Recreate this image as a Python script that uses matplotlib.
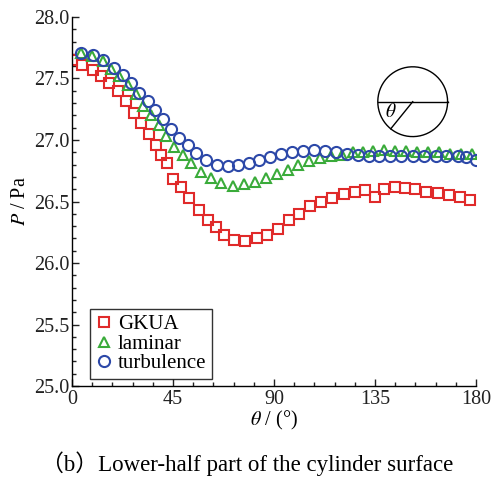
import numpy as np
import matplotlib
matplotlib.use("Agg")
import matplotlib.pyplot as plt
from matplotlib.ticker import MultipleLocator, FormatStrFormatter

plt.rcParams['font.family'] = ['Liberation Serif', 'Noto Sans CJK SC']
plt.rcParams['mathtext.fontset'] = 'stix'

# GKUA (squares)
th_gkua = [0, 4.5, 9.2, 12.9, 16.6, 20.4, 24.1, 27.8, 30.8, 34.5, 37.4, 39.7, 42.3,
           44.9, 48.6, 52.3, 56.5, 60.5, 64.2, 67.9, 72.4, 77.3, 82.3, 86.9, 91.7,
           96.6, 101.3, 106.2, 111.0, 115.9, 121.0, 125.9, 130.6, 135.2, 139.2,
           143.7, 148.4, 153.0, 157.8, 163.0, 167.9, 172.7, 177.4]
p_gkua = [27.65, 27.61, 27.57, 27.52, 27.465, 27.40, 27.32, 27.22, 27.14, 27.05,
          26.96, 26.88, 26.81, 26.68, 26.62, 26.53, 26.43, 26.35, 26.29, 26.23,
          26.19, 26.18, 26.20, 26.23, 26.28, 26.35, 26.40, 26.46, 26.50, 26.53,
          26.56, 26.58, 26.59, 26.54, 26.60, 26.62, 26.61, 26.60, 26.58, 26.57,
          26.55, 26.54, 26.51]

# laminar (triangles)
th_lam = [4.0, 8.9, 13.7, 17.4, 21.1, 24.8, 28.5, 31.8, 35.2, 38.6, 41.9, 45.6,
          49.3, 53.0, 57.5, 62.0, 66.4, 71.6, 76.8, 81.7, 86.5, 91.2, 96.1, 100.9,
          105.8, 110.3, 115.5, 120.4, 125.1, 129.6, 134.3, 139.2, 144.1, 148.9,
          153.6, 158.5, 163.7, 168.2, 173.4, 178.3]
p_lam = [27.71, 27.68, 27.64, 27.58, 27.52, 27.45, 27.37, 27.28, 27.20, 27.12,
         27.03, 26.94, 26.88, 26.81, 26.74, 26.69, 26.65, 26.63, 26.64, 26.66,
         26.69, 26.72, 26.76, 26.80, 26.83, 26.855, 26.87, 26.88, 26.90, 26.90,
         26.91, 26.92, 26.91, 26.91, 26.90, 26.90, 26.90, 26.89, 26.89, 26.89]

# turbulence (circles)
th_turb = [4.0, 9.2, 14.0, 18.9, 22.6, 26.3, 30.0, 33.7, 37.1, 40.4, 44.1, 47.8,
           51.6, 55.3, 59.7, 64.5, 69.4, 74.1, 79.0, 83.5, 88.3, 93.2, 98.1, 103.1,
           108.0, 112.9, 117.7, 122.4, 127.3, 132.2, 137.0, 141.8, 146.7, 151.9,
           157.0, 162.0, 166.7, 171.9, 175.6, 179.8]
p_turb = [27.71, 27.69, 27.65, 27.585, 27.53, 27.465, 27.385, 27.32, 27.245, 27.17,
          27.09, 27.02, 26.96, 26.895, 26.84, 26.80, 26.79, 26.795, 26.81, 26.836,
          26.86, 26.89, 26.90, 26.91, 26.92, 26.91, 26.90, 26.89, 26.88, 26.87,
          26.87, 26.87, 26.87, 26.87, 26.87, 26.87, 26.87, 26.87, 26.86, 26.84]

fig = plt.figure(figsize=(4.94, 4.8), dpi=100)
ax = fig.add_axes([0.1457, 0.1958, 0.8179, 0.7688])

ax.plot(th_gkua, p_gkua, 's', ms=7, mfc='none', mec='#e02a2a', mew=1.5, label='GKUA')
ax.plot(th_lam, p_lam, '^', ms=7.5, mfc='none', mec='#3aab3a', mew=1.5, label='laminar')
ax.plot(th_turb, p_turb, 'o', ms=8, mfc='none', mec='#2c48a8', mew=1.5, label='turbulence')

ax.set_xlim(0, 180)
ax.set_ylim(25.0, 28.0)
ax.xaxis.set_major_locator(MultipleLocator(45))
ax.xaxis.set_minor_locator(MultipleLocator(9))
ax.yaxis.set_major_locator(MultipleLocator(0.5))
ax.yaxis.set_minor_locator(MultipleLocator(0.1))
ax.yaxis.set_major_formatter(FormatStrFormatter('%.1f'))
ax.tick_params(which='both', direction='in', labelsize=14.5, colors='#222222')
ax.tick_params(which='major', length=5, width=1)
ax.tick_params(which='minor', length=3, width=1)
ax.tick_params(axis='y', pad=2)
ax.tick_params(axis='x', pad=3)
for s in ['top', 'right']:
    ax.spines[s].set_visible(False)
for s in ['left', 'bottom']:
    ax.spines[s].set_linewidth(1.0)

ax.set_xlabel(r'$\theta$ / (°)', fontsize=14.5, labelpad=0)
ax.set_ylabel(r'$P$ / Pa', fontsize=14.5, labelpad=3)

leg = ax.legend(loc='lower left', bbox_to_anchor=(0.044, 0.02), borderaxespad=0,
                fontsize=15, frameon=True, fancybox=False, edgecolor='black',
                labelspacing=0.0, borderpad=0.25, handlelength=0.9,
                handletextpad=0.2)
leg.get_frame().set_linewidth(1.0)

# cylinder sketch
ins = fig.add_axes([(412.7 - 37) / 494, 1 - (101.7 + 37) / 480, 74 / 494, 74 / 480])
ins.set_xlim(-1.06, 1.06)
ins.set_ylim(-1.06, 1.06)
ins.set_aspect('equal')
ins.axis('off')
t = np.linspace(0, 2 * np.pi, 200)
ins.plot(np.cos(t), np.sin(t), color='black', lw=1.0)
ins.plot([-1, 1], [0, 0], color='black', lw=1.0)
a = np.deg2rad(231)
ins.plot([0, np.cos(a)], [0, np.sin(a)], color='black', lw=1.0)
ins.text(-0.62, -0.3, r'$\theta$', fontsize=14, ha='center', va='center')

fig.text(0.5, 0.035, '（b）Lower-half part of the cylinder surface', ha='center',
         va='center', fontsize=16.5)

fig.savefig('out.png', dpi=100)
